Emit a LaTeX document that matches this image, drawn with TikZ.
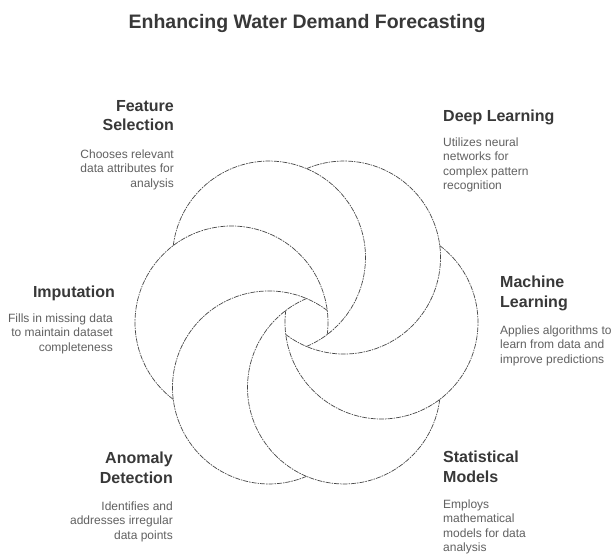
\documentclass[tikz,border=0pt]{standalone}
\usepackage{fontspec}
\setmainfont{Liberation Sans}
\begin{document}
\begin{tikzpicture}[x=1pt,y=1pt,
  petal/.style={draw=black!72, line width=0.7pt, dash pattern=on 5pt off 1pt on 1.5pt off 1pt},
  titletext/.style={font=\fontsize{19.5}{23}\selectfont\bfseries, text=black!78, inner sep=0pt},
  heading/.style={font=\fontsize{16}{19.5}\selectfont\bfseries, text=black!78, inner sep=0pt},
  desc/.style={font=\fontsize{12}{14.5}\selectfont, text=black!62, inner sep=0pt},
]
\useasboundingbox (0,0) rectangle (615,554);
\fill[white] (0,0) rectangle (615,554);

% pinwheel: six circles on a ring, each drawn as a 240 degree arc
\def\cx{306.5}
\def\cy{231.5}
\def\ring{75}
\def\rad{96.5}
\pgfmathsetmacro{\al}{acos(0.5*\ring/\rad)}
\foreach \t in {0,60,...,300} {
  \draw[petal]
    ({\cx+\ring*cos(\t)+\rad*cos(\t+120-\al)},{\cy+\ring*sin(\t)+\rad*sin(\t+120-\al)})
    arc[start angle={\t+120-\al}, end angle={\t-120-\al}, radius=\rad];
}

% title
\node[titletext, anchor=base] (title) at (307,525) {Enhancing Water Demand Forecasting};

% top left
\node[heading, anchor=north east, align=right] (fsh) at (174,453.8) {Feature\\Selection};
\node[desc, anchor=north east, align=right] (fsd) at (174,404.5) {Chooses relevant\\data attributes for\\analysis};

% top right
\node[heading, anchor=north west, align=left] (dlh) at (443,443.8) {Deep Learning};
\node[desc, anchor=north west, align=left] (dld) at (443,416.5) {Utilizes neural\\networks for\\complex pattern\\recognition};

% left
\node[heading, anchor=north east, align=right] (imh) at (115,267.8) {Imputation};
\node[desc, anchor=north east, align=right] (imd) at (113,240.5) {Fills in missing data\\to maintain dataset\\completeness};

% right
\node[heading, anchor=north west, align=left] (mlh) at (500,277.8) {Machine\\Learning};
\node[desc, anchor=north west, align=left] (mld) at (500,228.5) {Applies algorithms to\\learn from data and\\improve predictions};

% bottom left
\node[heading, anchor=north east, align=right] (adh) at (173,101.8) {Anomaly\\Detection};
\node[desc, anchor=north east, align=right] (add) at (173,52.5) {Identifies and\\addresses irregular\\data points};

% bottom right
\node[heading, anchor=north west, align=left] (smh) at (443,102.8) {Statistical\\Models};
\node[desc, anchor=north west, align=left] (smd) at (443,54.5) {Employs\\mathematical\\models for data\\analysis};
\end{tikzpicture}
\end{document}
